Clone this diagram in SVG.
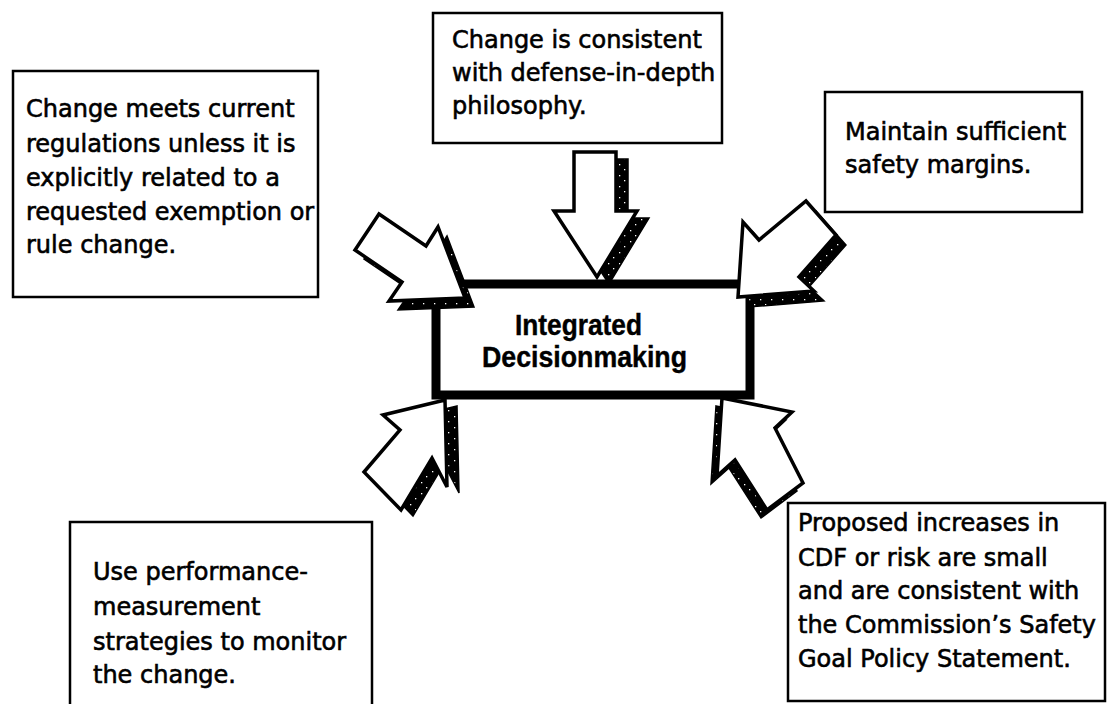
<svg xmlns="http://www.w3.org/2000/svg" width="1109" height="704" viewBox="0 0 1109 704">
<defs>
<pattern id="speckle" width="11" height="11" patternUnits="userSpaceOnUse">
<rect width="11" height="11" fill="#000"/>
<rect x="2" y="3" width="1.3" height="1.3" fill="#fff"/>
<rect x="7" y="8" width="1.3" height="1.3" fill="#fff"/>
</pattern>
</defs>
<style>
.box{fill:#fff;stroke:#000;stroke-width:2.5}
.center{fill:#fff;stroke:#000;stroke-width:9}
.t{font-family:"DejaVu Sans",sans-serif;font-size:24px;fill:#000;stroke:#000;stroke-width:0.6}
.c{font-family:"Liberation Sans",Arial,sans-serif;font-weight:bold;font-size:29px;fill:#000;stroke:#000;stroke-width:0.4}
.arrow{fill:#fff;stroke:#000;stroke-width:3.5;stroke-linejoin:miter}
.shadow{fill:url(#speckle);stroke:#000;stroke-width:1.5}
</style>
<rect width="1109" height="704" fill="#fff"/>

<g id="node-regulations">
<rect class="box" x="13" y="71" width="305" height="226"/>
<text class="t" x="26" y="117">Change meets current</text>
<text class="t" x="26" y="152">regulations unless it is</text>
<text class="t" x="26" y="186">explicitly related to a</text>
<text class="t" x="26" y="220">requested exemption or</text>
<text class="t" x="26" y="253">rule change.</text>
</g>

<g id="node-defense">
<rect class="box" x="433" y="13" width="289" height="130"/>
<text class="t" x="452" y="48">Change is consistent</text>
<text class="t" x="452" y="81">with defense-in-depth</text>
<text class="t" x="452" y="114">philosophy.</text>
</g>

<g id="node-margins">
<rect class="box" x="825" y="92" width="257" height="120"/>
<text class="t" x="845" y="140">Maintain sufficient</text>
<text class="t" x="845" y="173">safety margins.</text>
</g>

<g id="node-monitor">
<rect class="box" x="70" y="522" width="302" height="200"/>
<text class="t" x="93" y="580">Use performance-</text>
<text class="t" x="93" y="615">measurement</text>
<text class="t" x="93" y="650">strategies to monitor</text>
<text class="t" x="93" y="683">the change.</text>
</g>

<g id="node-risk">
<rect class="box" x="788" y="503" width="317" height="198"/>
<text class="t" x="798" y="531">Proposed increases in</text>
<text class="t" x="798" y="566">CDF or risk are small</text>
<text class="t" x="798" y="599">and are consistent with</text>
<text class="t" x="798" y="633">the Commission’s Safety</text>
<text class="t" x="798" y="667">Goal Policy Statement.</text>
</g>

<g id="node-center">
<rect class="center" x="436" y="284" width="314" height="111"/>
<text class="c" x="515" y="335" textLength="127" lengthAdjust="spacingAndGlyphs">Integrated</text>
<text class="c" x="482" y="367" textLength="205" lengthAdjust="spacingAndGlyphs">Decisionmaking</text>
</g>

<g id="connectors">
<g id="arrow-top">
<polygon class="shadow" transform="translate(12,7)" points="574,152 616,152 616,211 637,211 597,277 554,211 574,211"/>
<polygon class="arrow" points="574,152 616,152 616,211 637,211 597,277 554,211 574,211"/>
</g>
<g id="arrow-upper-left">
<polygon class="shadow" transform="translate(9,9)" points="465,298 438,227 426,246 379,214 355,250 402,282 389,301"/>
<polygon class="arrow" points="465,298 438,227 426,246 379,214 355,250 402,282 389,301"/>
</g>
<g id="arrow-upper-right">
<polygon class="shadow" transform="translate(10,10)" points="738,297 743,222 759,240 806,201 836,235 799,277 814,291"/>
<polygon class="arrow" points="738,297 743,222 759,240 806,201 836,235 799,277 814,291"/>
</g>
<g id="arrow-lower-left">
<polygon class="shadow" transform="translate(12,6)" points="445,400 383,415 400,430 364,472 401,510 432,458 447,487"/>
<polygon class="arrow" points="445,400 383,415 400,430 364,472 401,510 432,458 447,487"/>
</g>
<g id="arrow-lower-right">
<polygon class="shadow" transform="translate(-6,8)" points="722,398 792,412 775,428 803,483 767,510 735,460 717,476"/>
<polygon class="arrow" points="722,398 792,412 775,428 803,483 767,510 735,460 717,476"/>
</g>
</g>
</svg>
